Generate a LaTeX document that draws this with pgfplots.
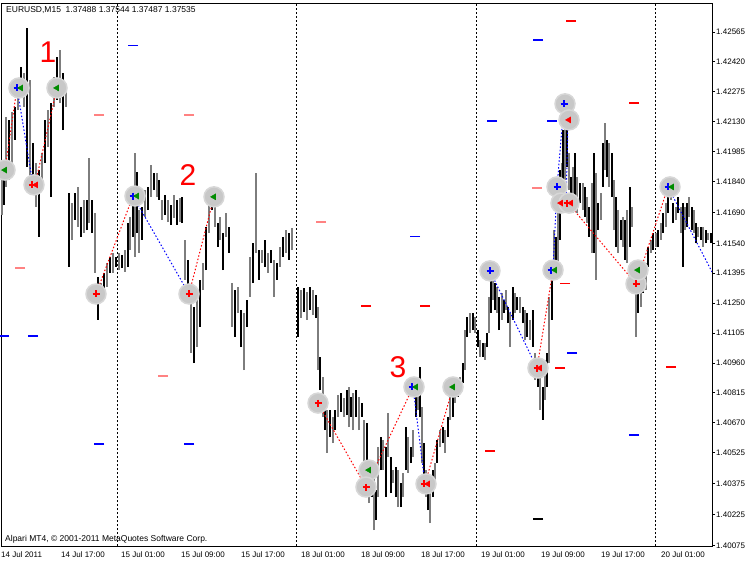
\documentclass[border=0pt]{standalone}
\usepackage{fontspec}
\setmainfont{Liberation Sans}
\usepackage{pgfplots}
\usepackage{pgfplotstable}
\pgfplotsset{compat=1.18}
\definecolor{mtgray}{RGB}{125,125,125}
\definecolor{salmon}{RGB}{255,130,130}
\definecolor{mtblue}{RGB}{0,0,255}
\definecolor{mtgreen}{RGB}{0,140,0}
\definecolor{mtred}{RGB}{255,0,0}
\definecolor{circfill}{RGB}{200,200,200}
\definecolor{circdraw}{RGB}{215,215,215}

\pgfplotstableread{
x lo hi
2 1.41677 1.41944
6 1.41813 1.42153
12 1.41929 1.42177
18 1.42186 1.42317
24 1.42201 1.42366
30 1.41862 1.42332
36 1.41716 1.41929
42 1.41813 1.41978
48 1.42007 1.42186
54 1.42201 1.42347
60 1.42220 1.42477
66 1.42201 1.42298
72 1.41556 1.41735
78 1.41619 1.41813
84 1.41590 1.41750
89 1.41638 1.41954
95 1.41396 1.41687
101 1.41250 1.41347
107 1.41328 1.41444
113 1.41396 1.41493
119 1.41410 1.41493
125 1.41401 1.41507
130 1.41507 1.41668
135 1.41474 1.41978
139 1.41493 1.41701
145 1.41668 1.41798
151 1.41765 1.41920
157 1.41765 1.41881
162 1.41653 1.41750
168 1.41643 1.41750
174 1.41663 1.41774
180 1.41643 1.41760
185 1.41362 1.41556
191 1.41008 1.41313
197 1.41037 1.41265
203 1.41313 1.41444
209 1.41590 1.41735
215 1.41619 1.41716
220 1.41556 1.41668
226 1.41571 1.41687
232 1.41134 1.41347
238 1.41202 1.41328
244 1.40925 1.41202
250 1.41280 1.41474
256 1.41493 1.41881
262 1.41444 1.41507
268 1.41396 1.41493
274 1.41280 1.41459
280 1.41425 1.41522
286 1.41493 1.41604
292 1.41507 1.41614
301 1.41178 1.41313
307 1.41168 1.41304
313 1.41192 1.41313
318 1.40925 1.41231
323 1.40698 1.40892
327 1.40523 1.40731
333 1.40571 1.40698
338 1.40698 1.40804
344 1.40698 1.40790
349 1.40649 1.40843
353 1.40634 1.40814
359 1.40634 1.40795
364 1.40440 1.40683
369 1.40280 1.40474
374 1.40149 1.40407
378 1.40310 1.40552
383 1.40440 1.40586
388 1.40504 1.40717
393 1.40377 1.40440
398 1.40261 1.40440
403 1.40310 1.40426
408 1.40426 1.40601
413 1.40504 1.40634
418 1.40731 1.40862
422 1.40474 1.40746
426 1.40310 1.40440
430 1.40183 1.40343
435 1.40392 1.40474
440 1.40552 1.40634
445 1.40523 1.40634
450 1.40683 1.40795
455 1.40765 1.40892
460 1.40828 1.40892
465 1.40925 1.41119
470 1.41105 1.41202
475 1.41105 1.41183
480 1.40989 1.41071
485 1.40974 1.41056
489 1.41105 1.41280
493 1.41265 1.41362
497 1.41202 1.41328
502 1.41168 1.41299
506 1.41216 1.41313
510 1.41037 1.41202
515 1.41202 1.41299
520 1.41202 1.41280
525 1.41071 1.41216
530 1.41071 1.41168
535 1.40877 1.41008
540 1.40731 1.40911
545 1.40780 1.40974
549 1.40959 1.41280
554 1.41362 1.41604
558 1.41425 1.41847
562 1.41687 1.41929
565 1.41847 1.42235
569 1.41798 1.41978
573 1.41687 1.41910
577 1.41687 1.41862
583 1.41701 1.41832
587 1.41638 1.41765
592 1.41493 1.41832
596 1.41362 1.41881
601 1.41653 1.41784
605 1.41895 1.42123
609 1.41813 1.42026
614 1.41604 1.41847
618 1.41493 1.41701
623 1.41522 1.41668
627 1.41444 1.41701
632 1.41619 1.41716
636 1.41086 1.41396
641 1.41231 1.41425
646 1.41313 1.41444
651 1.41493 1.41556
656 1.41522 1.41590
661 1.41556 1.41638
666 1.41619 1.41735
671 1.41750 1.41832
676 1.41653 1.41716
681 1.41590 1.41716
685 1.41604 1.41716
689 1.41668 1.41765
694 1.41590 1.41701
698 1.41571 1.41619
703 1.41522 1.41619
708 1.41556 1.41590
}\barsgray

\pgfplotstableread{
x lo hi
4 1.41726 1.41871
9 1.41847 1.42138
15 1.42041 1.42201
21 1.42283 1.42395
27 1.41910 1.42584
33 1.41813 1.42026
39 1.41571 1.41895
45 1.41929 1.42138
51 1.41765 1.42220
57 1.42235 1.42444
63 1.42089 1.42366
69 1.41425 1.41784
75 1.41653 1.41784
81 1.41571 1.41716
87 1.41604 1.41750
92 1.41590 1.41750
98 1.41168 1.41377
104 1.41265 1.41396
110 1.41396 1.41474
116 1.41425 1.41474
122 1.41420 1.41483
128 1.41425 1.41638
133 1.41571 1.41784
137 1.41590 1.41886
142 1.41556 1.41716
148 1.41701 1.41813
154 1.41798 1.41881
159 1.41750 1.41847
165 1.41677 1.41774
171 1.41629 1.41726
177 1.41629 1.41750
182 1.41638 1.41765
188 1.41265 1.41459
194 1.40959 1.41231
200 1.41134 1.41362
206 1.41410 1.41619
212 1.41701 1.41765
218 1.41522 1.41638
223 1.41410 1.41590
229 1.41493 1.41619
235 1.41086 1.41313
241 1.41037 1.41216
247 1.41134 1.41265
253 1.41347 1.41541
259 1.41362 1.41507
265 1.41425 1.41556
271 1.41444 1.41507
277 1.41362 1.41444
283 1.41474 1.41571
289 1.41459 1.41590
298 1.41086 1.41328
304 1.41207 1.41323
310 1.41216 1.41328
316 1.41178 1.41289
320 1.40828 1.40989
325 1.40634 1.40795
330 1.40601 1.40731
335 1.40634 1.40731
341 1.40722 1.40814
347 1.40707 1.40828
351 1.40698 1.40795
356 1.40698 1.40828
362 1.40698 1.40765
367 1.40343 1.40668
372 1.40310 1.40440
376 1.40198 1.40343
381 1.40440 1.40601
386 1.40310 1.40552
391 1.40329 1.40504
396 1.40310 1.40455
401 1.40261 1.40377
406 1.40440 1.40649
411 1.40474 1.40552
416 1.40698 1.40892
420 1.40698 1.40940
424 1.40343 1.40571
428 1.40246 1.40377
433 1.40310 1.40440
437 1.40474 1.40586
443 1.40571 1.40649
448 1.40601 1.40698
453 1.40698 1.40843
458 1.40795 1.40843
463 1.40862 1.40959
467 1.41086 1.41183
473 1.41119 1.41202
478 1.41037 1.41119
483 1.40989 1.41056
487 1.41037 1.41105
491 1.41202 1.41396
495 1.41216 1.41347
499 1.41119 1.41280
504 1.41202 1.41265
508 1.41153 1.41231
513 1.41168 1.41328
517 1.41216 1.41280
523 1.41153 1.41231
527 1.41086 1.41202
533 1.41037 1.41216
538 1.40843 1.40959
543 1.40683 1.40843
547 1.40843 1.41008
552 1.41168 1.41425
556 1.41396 1.41571
560 1.41556 1.41895
563 1.41798 1.42089
567 1.41910 1.42172
571 1.41735 1.41862
575 1.41716 1.41978
580 1.41735 1.41832
585 1.41668 1.41813
589 1.41571 1.41716
594 1.41493 1.41978
598 1.41604 1.41735
603 1.41813 1.42026
607 1.41862 1.42041
612 1.41765 1.41978
616 1.41522 1.41765
621 1.41556 1.41653
625 1.41459 1.41653
630 1.41522 1.41813
634 1.41299 1.41444
638 1.41202 1.41362
643 1.41299 1.41410
648 1.41425 1.41522
653 1.41507 1.41590
658 1.41522 1.41604
663 1.41590 1.41687
668 1.41687 1.41798
673 1.41638 1.41735
678 1.41687 1.41765
683 1.41425 1.41735
687 1.41619 1.41735
692 1.41604 1.41716
696 1.41541 1.41638
701 1.41556 1.41619
706 1.41541 1.41604
711 1.41541 1.41590
}\barsblack

\begin{document}
\begin{tikzpicture}
\useasboundingbox (0,0) rectangle (750pt,563pt);
\begin{axis}[
  at={(1pt,17pt)}, anchor=south west,
  width=711pt, height=543pt, scale only axis,
  xmin=1, xmax=712, ymin=1.40072, ymax=1.42705,
  axis line style={black, line width=0.7pt},
  clip=true,
  unbounded coords=jump,
  xtick={2,62,122,182,242,302,362,422,482,542,602,662},
  xticklabels={14 Jul 2011, 14 Jul 17:00, 15 Jul 01:00, 15 Jul 09:00, 15 Jul 17:00, 18 Jul 01:00, 18 Jul 09:00, 18 Jul 17:00, 19 Jul 01:00, 19 Jul 09:00, 19 Jul 17:00, 20 Jul 01:00},
  xtick style={draw=none},
  xticklabel style={anchor=north west, inner sep=0pt, xshift=-1pt, yshift=-3pt, font=\fontsize{8}{9}\selectfont},
  ytick={1.40075,1.40225,1.40375,1.40525,1.40670,1.40815,1.40960,1.41105,1.41250,1.41395,1.41540,1.41690,1.41840,1.41985,1.42130,1.42275,1.42420,1.42565},
  yticklabels={1.40075,1.40225,1.40375,1.40525,1.40670,1.40815,1.40960,1.41105,1.41250,1.41395,1.41540,1.41690,1.41840,1.41985,1.42130,1.42275,1.42420,1.42565},
  ytick pos=right, yticklabel pos=right,
  ytick style={black, line width=0.6pt},
  tick align=outside, major tick length=3pt,
  yticklabel style={anchor=west, inner sep=0pt, xshift=1pt, font=\fontsize{8}{9}\selectfont},
]
% day separators
\addplot[black, line width=0.7pt, dash pattern=on 2pt off 2pt] coordinates {
 (117,1.40072) (117,1.42705) (117,nan)
 (296,1.40072) (296,1.42705) (296,nan)
 (476,1.40072) (476,1.42705) (476,nan)
 (655,1.40072) (655,1.42705)};
% signal circles
\addplot[only marks, mark=*, mark size=10pt, mark options={fill=circfill, draw=circdraw, line width=1.5pt}] coordinates {
 (5,1.41895) (19,1.42293) (34,1.41823) (57,1.42293) (96,1.41294) (135,1.41769) (189,1.41294) (214,1.41765)
 (318,1.40765) (369,1.40440) (366,1.40358) (414,1.40843) (426,1.40373) (453,1.40843)
 (490,1.41406) (538,1.40935) (553,1.41410) (557,1.41813) (561,1.41735) (569,1.41735) (565,1.42216) (569,1.42138)
 (636,1.41343) (638,1.41410) (670,1.41813)};
% bars: segment from low to high at each x
\addplot[draw=mtgray, line width=2.4pt, mark=none,
  quiver={u=0, v=\thisrow{hi}-\thisrow{lo}}]
  table[x=x, y=lo] {\barsgray};
\addplot[draw=black, line width=1.1pt, mark=none,
  quiver={u=0, v=\thisrow{hi}-\thisrow{lo}}]
  table[x=x, y=lo] {\barsblack};
% connecting dotted lines
\addplot[mtred, line width=1pt, dash pattern=on 1.5pt off 2pt] coordinates {
 (5,1.41895) (17,1.42293) (20,nan) (35,1.41823) (57,1.42293) (60,nan)
 (96,1.41294) (133,1.41769) (140,nan) (189,1.41294) (214,1.41765) (220,nan)
 (318,1.40765) (366,1.40358) (413,1.40843) (420,nan) (425,1.40373) (453,1.40843) (460,nan)
 (537,1.40935) (553,1.41410) (555,nan) (568,1.41735) (636,1.41343) (668,1.41813)};
\addplot[mtblue, line width=1pt, dash pattern=on 1.5pt off 2pt] coordinates {
 (17,1.42293) (33,1.41823) (40,nan) (133,1.41769) (189,1.41294) (200,nan)
 (413,1.40843) (425,1.40373) (430,nan) (490,1.41406) (537,1.40935) (540,nan)
 (553,1.41410) (557,1.41813) (564,1.42216) (568,1.42138) (566,1.41735) (570,nan)
 (668,1.41813) (712,1.41401)};
% level dashes
\addplot[only marks, mark=-, mark size=5pt, mark options={draw=salmon, line width=1.2pt}] coordinates {
 (99,1.42162) (189,1.42162) (20,1.41420) (163,1.40896) (537,1.41808) (321,1.41643)};
\addplot[only marks, mark=-, mark size=5pt, mark options={draw=mtred, line width=1.2pt}] coordinates {
 (366,1.41236) (425,1.41236) (490,1.40533) (571,1.42618) (565,1.41343) (560,1.40935) (634,1.42220) (671,1.40940)};
\addplot[only marks, mark=-, mark size=5pt, mark options={draw=mtblue, line width=1.2pt}] coordinates {
 (133,1.42497) (33,1.41090) (4,1.41090) (99,1.40567) (189,1.40567) (415,1.41571) (492,1.42133) (552,1.42133) (538,1.42526) (572,1.41008) (634,1.40610)};
\addplot[only marks, mark=-, mark size=5pt, mark options={draw=black, line width=1.2pt}] coordinates {
 (538,1.40203)};
% arrows
\addplot[only marks, mark=+, mark size=3.5pt, mark options={draw=mtblue, line width=1.6pt}] coordinates {
 (17,1.42293) (133,1.41769) (412,1.40843) (490,1.41406) (551,1.41410) (557,1.41813) (564,1.42216) (668,1.41813)};
\addplot[only marks, mark=triangle*, mark size=3.5pt, mark options={fill=mtgreen, draw=mtgreen, rotate=90}] coordinates {
 (5,1.41895) (21,1.42293) (57,1.42293) (137,1.41769) (214,1.41765) (369,1.40440) (416,1.40843) (453,1.40843) (555,1.41410) (638,1.41410) (672,1.41813)};
\addplot[only marks, mark=+, mark size=3.5pt, mark options={draw=mtred, line width=1.6pt}] coordinates {
 (32,1.41823) (96,1.41294) (189,1.41294) (318,1.40765) (366,1.40358) (424,1.40373) (537,1.40935) (567,1.41735) (636,1.41343)};
\addplot[only marks, mark=triangle*, mark size=3.5pt, mark options={fill=mtred, draw=mtred, rotate=90}] coordinates {
 (36,1.41823) (428,1.40373) (540,1.40935) (561,1.41735) (571,1.41735) (569,1.42138)};
% texts
\node[text=mtred, font=\fontsize{30}{30}\selectfont] at (axis cs:48,1.42468) {1};
\node[text=mtred, font=\fontsize{30}{30}\selectfont] at (axis cs:188,1.41871) {2};
\node[text=mtred, font=\fontsize{30}{30}\selectfont] at (axis cs:398,1.40940) {3};
\node[anchor=west, inner sep=0pt, font=\fontsize{8.5}{10}\selectfont] at (axis cs:6,1.42671) {EURUSD,M15\ \ 1.37488 1.37544 1.37487 1.37535};
\node[anchor=west, inner sep=0pt, font=\fontsize{8.5}{10}\selectfont] at (axis cs:5,1.40106) {Alpari MT4, © 2001-2011 MetaQuotes Software Corp.};
\end{axis}
\end{tikzpicture}
\end{document}
